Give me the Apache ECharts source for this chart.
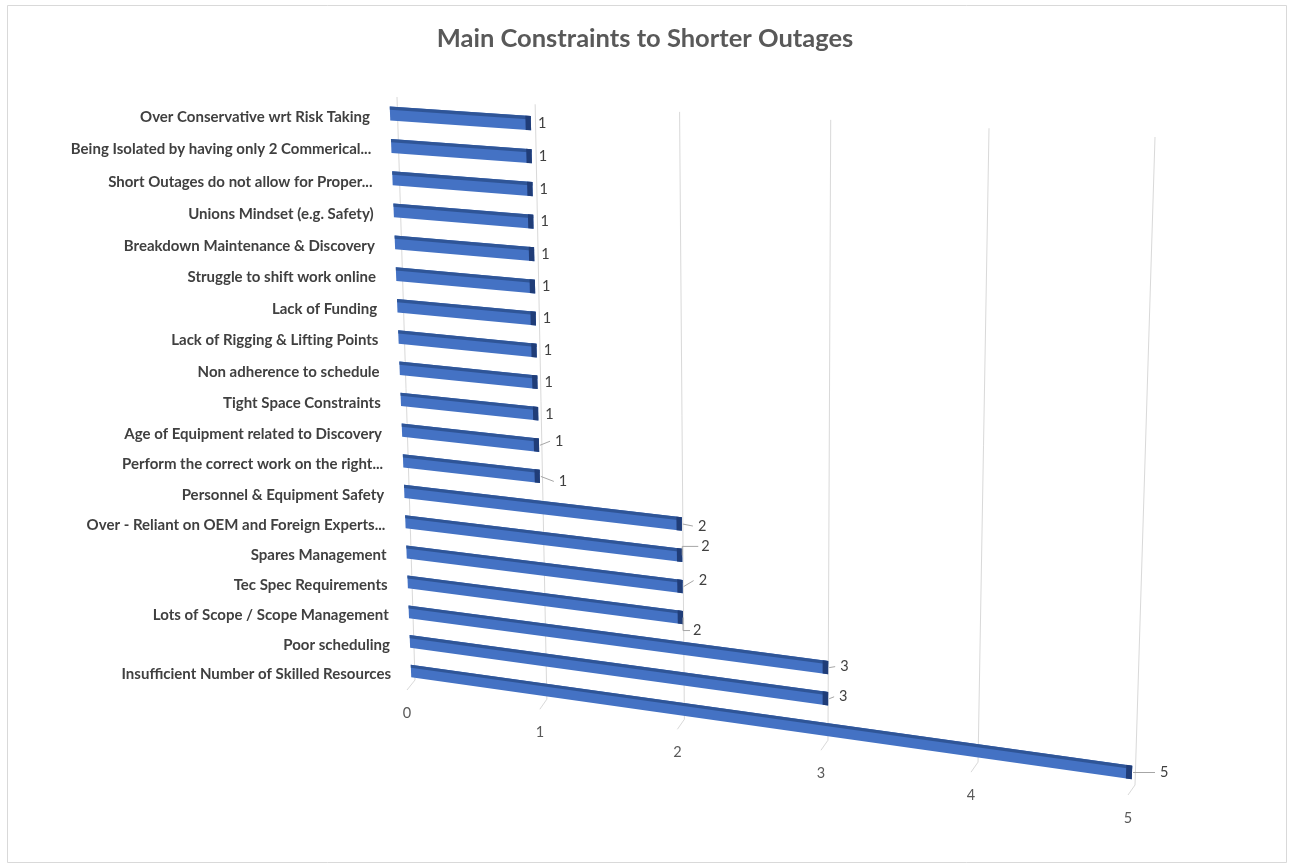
<!DOCTYPE html>
<html>
<head>
<meta charset="utf-8">
<title>Main Constraints to Shorter Outages</title>
<script src="https://cdn.jsdelivr.net/npm/echarts@6/dist/echarts.min.js"></script>
<style>
  html, body { margin: 0; padding: 0; background: #ffffff; }
  #chart { width: 1290px; height: 864px; }
</style>
</head>
<body>
<div id="chart"></div>
<script>
// Constraint categories, listed top to bottom as they appear on the chart
const categories = [
  'Over Conservative wrt Risk Taking',
  'Being Isolated by having only 2 Commerical...',
  'Short Outages do not allow for Proper...',
  'Unions Mindset (e.g. Safety)',
  'Breakdown Maintenance & Discovery',
  'Struggle to shift work online',
  'Lack of Funding',
  'Lack of Rigging & Lifting Points',
  'Non adherence to schedule',
  'Tight Space Constraints',
  'Age of Equipment related to Discovery',
  'Perform the correct work on the right...',
  'Personnel & Equipment Safety',
  'Over - Reliant on OEM and Foreign Experts...',
  'Spares Management',
  'Tec Spec Requirements',
  'Lots of Scope / Scope Management',
  'Poor scheduling',
  'Insufficient Number of Skilled Resources'
];

// Number of mentions per constraint
const mentions = [1, 1, 1, 1, 1, 1, 1, 1, 1, 1, 1, 1, 2, 2, 2, 2, 3, 3, 5];

// Value axis ticks
const valueTicks = [0, 1, 2, 3, 4, 5];

const TITLE = 'Main Constraints to Shorter Outages';

// ---- perspective layout -------------------------------------------------
// Projective map from the unit square (s right, t up) onto a screen quad,
// corners given as (0,0), (1,0), (1,1), (0,1).
function quadMap(q) {
  const [x0, y0] = q[0], [x1, y1] = q[1], [x2, y2] = q[2], [x3, y3] = q[3];
  const dx1 = x1 - x2, dx2 = x3 - x2, dx3 = x0 - x1 + x2 - x3;
  const dy1 = y1 - y2, dy2 = y3 - y2, dy3 = y0 - y1 + y2 - y3;
  const den = dx1 * dy2 - dx2 * dy1;
  const g = (dx3 * dy2 - dx2 * dy3) / den;
  const h = (dx1 * dy3 - dx3 * dy1) / den;
  const a = x1 - x0 + g * x1, b = x3 - x0 + h * x3, c = x0;
  const d = y1 - y0 + g * y1, e = y3 - y0 + h * y3, f = y0;
  return function (s, t) {
    const w = g * s + h * t + 1;
    return [(a * s + b * t + c) / w, (d * s + e * t + f) / w];
  };
}

// plane through the bars and the back wall behind them
const barPlane = quadMap([[411, 671], [1132, 772.5], [1150, 166], [390, 113.5]]);
const wallPlane = quadMap([[415, 680], [1135, 785], [1155, 137], [397, 97]]);

// flat grid pixel -> unit square
function toUnit(cs, px, py) {
  return [(px - cs.x) / cs.width, (cs.y + cs.height - py) / cs.height];
}

// value-label placement tweaks (dx, dy from the bar end) with leader lines
const labelNudge = {
  10: [16, -4], 11: [19, 5], 12: [16, 2], 13: [19, -9], 14: [16, -6],
  15: [10, 13], 16: [12, -1], 17: [11, -2], 18: [28, 0]
};

const FONT = 'Lato, "Open Sans", "Liberation Sans", sans-serif';
const BAR_FRONT = '#4472C4';
const BAR_TOP = '#2F5597';
const BAR_CAP = '#203D78';
const GRID_LINE = '#D9D9D9';

function renderBar(params, api) {
  const cs = params.coordSys;
  const v = api.value(0);
  const ci = api.value(1);
  const idx = params.dataIndex;
  const start = api.coord([0, ci]);
  const end = api.coord([v, ci]);
  const band = api.size([0, 1])[1];
  const half = band * 0.215;

  const [s0, tc] = toUnit(cs, start[0], start[1]);
  const [s1] = toUnit(cs, end[0], end[1]);
  const dt = half / cs.height;
  const tTop = tc + dt, tBot = tc - dt;
  const tStrip = tTop - (tTop - tBot) * 0.24;
  const capS = 0.0075;

  const P = barPlane;
  const body = [P(s0, tTop), P(s1, tTop), P(s1, tBot), P(s0, tBot)];
  const strip = [P(s0, tTop), P(s1, tTop), P(s1, tStrip), P(s0, tStrip)];
  const cap = [P(s1 - capS, tTop), P(s1, tTop), P(s1, tBot), P(s1 - capS, tBot)];

  const children = [
    { type: 'polygon', shape: { points: body }, style: { fill: BAR_FRONT } },
    { type: 'polygon', shape: { points: strip }, style: { fill: BAR_TOP } },
    { type: 'polygon', shape: { points: cap }, style: { fill: BAR_CAP } }
  ];

  // category name, right-aligned in front of the bar
  const left = P(s0, tc);
  children.push({
    type: 'text',
    x: left[0] - 20,
    y: left[1] + 3.5,
    style: {
      text: categories[idx],
      fill: '#404040',
      font: 'bold 15px ' + FONT,
      align: 'right',
      verticalAlign: 'middle'
    }
  });

  // value label at the bar end
  const tip = P(s1, tc);
  const nudge = labelNudge[idx];
  const lx = tip[0] + (nudge ? nudge[0] : 7);
  const ly = tip[1] + (nudge ? nudge[1] : 0);
  if (nudge) {
    const pts = Math.abs(nudge[1]) > 8
      ? [[tip[0], tip[1]], [tip[0], ly], [lx - 3, ly]]
      : [[tip[0] + 1, tip[1]], [lx - 5, ly]];
    children.push({
      type: 'polyline',
      shape: { points: pts },
      style: { stroke: '#A6A6A6', lineWidth: 1, fill: null }
    });
  }
  children.push({
    type: 'text',
    x: lx,
    y: ly,
    style: {
      text: String(v),
      fill: '#404040',
      font: '14.5px ' + FONT,
      align: 'left',
      verticalAlign: 'middle'
    }
  });

  return { type: 'group', children: children };
}

function renderTick(params, api) {
  const cs = params.coordSys;
  const v = api.value(0);
  const p = api.coord([v, 0]);
  const s = (p[0] - cs.x) / cs.width;
  const top = wallPlane(s, 1);
  const bottom = wallPlane(s, 0);
  // the first tick sits on the corner where the side wall meets the floor
  const front = s === 0 ? [bottom[0] - 8, bottom[1] + 10] : [bottom[0] - 7, bottom[1] + 10];
  return {
    type: 'group',
    children: [
      { type: 'line', shape: { x1: top[0], y1: top[1], x2: bottom[0], y2: bottom[1] },
        style: { stroke: GRID_LINE, lineWidth: 1 } },
      { type: 'line', shape: { x1: bottom[0], y1: bottom[1], x2: front[0], y2: front[1] },
        style: { stroke: GRID_LINE, lineWidth: 1 } },
      { type: 'text', x: front[0], y: front[1] + 23,
        style: { text: String(v), fill: '#595959', font: '14.5px ' + FONT,
                 align: 'center', verticalAlign: 'middle' } }
    ]
  };
}

const chart = echarts.init(document.getElementById('chart'), null, { renderer: 'canvas' });

chart.setOption({
  backgroundColor: '#ffffff',
  animation: false,
  title: {
    text: TITLE,
    left: 'center',
    top: 21,
    textStyle: { fontFamily: FONT, fontWeight: 'bold', fontSize: 25.5, color: '#595959' }
  },
  graphic: [{
    type: 'rect',
    left: 5, top: 3,
    shape: { width: 1279, height: 857 },
    style: { fill: null, stroke: GRID_LINE, lineWidth: 1 },
    silent: true
  }],
  grid: { left: 300, right: 200, top: 120, bottom: 150 },
  xAxis: { type: 'value', min: 0, max: 5, interval: 1, show: false },
  yAxis: { type: 'category', data: categories, inverse: true, boundaryGap: false, show: false },
  series: [
    {
      type: 'custom',
      name: 'ticks',
      z: 1,
      renderItem: renderTick,
      data: valueTicks.map(function (v) { return [v, 0]; }),
      encode: { x: 0, y: 1 }
    },
    {
      type: 'custom',
      name: 'Mentions',
      z: 2,
      renderItem: renderBar,
      data: mentions.map(function (v, i) { return [v, i]; }),
      encode: { x: 0, y: 1 }
    }
  ]
});
</script>
</body>
</html>
